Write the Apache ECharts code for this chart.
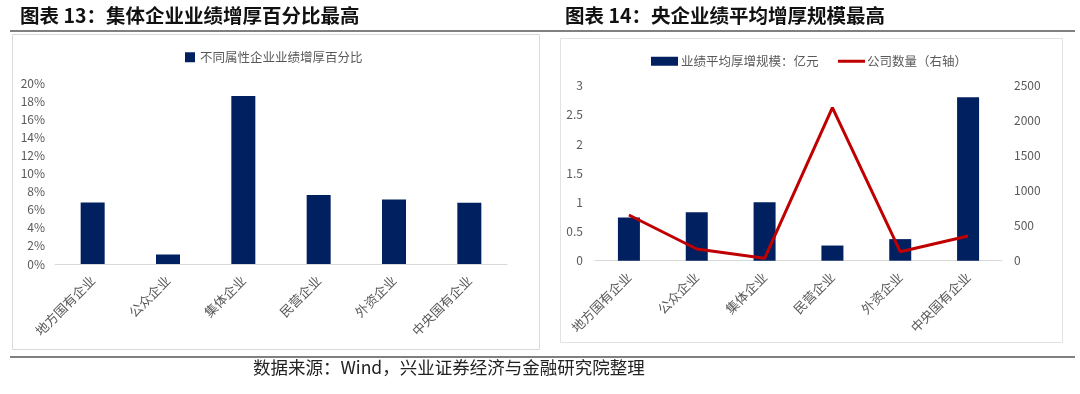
<!DOCTYPE html>
<html><head><meta charset="utf-8">
<script src="https://cdn.jsdelivr.net/npm/echarts@6/dist/echarts.min.js"></script>
<style>html,body{margin:0;padding:0;background:#fff}#c{width:1080px;height:394px}</style>
</head><body><div id="c"></div>
<script>
const categories = ['地方国有企业','公众企业','集体企业','民营企业','外资企业','中央国有企业'];
const pctValues = [0.068, 0.0105, 0.1855, 0.0762, 0.0712, 0.0678];
const avgScale = [0.74, 0.83, 1.0, 0.26, 0.37, 2.80];
const companyCount = [653, 167, 34, 2186, 129, 353];
const leftTicks = ['0%','2%','4%','6%','8%','10%','12%','14%','16%','18%','20%'];

const navy = '#002060';
const red = '#C00000';
const txt = '#595959';
const cjk = '"Noto Sans CJK SC", "Noto Sans", sans-serif';

const chart = echarts.init(document.getElementById('c'), null, {renderer:'canvas'});
const axisLabelX = {rotate:45, fontSize:13, color:txt, fontFamily:cjk, interval:0, margin:14};
chart.setOption({
  animation:false,
  textStyle:{fontFamily:cjk},
  graphic:[
    {type:'text', left:20, top:6, style:{text:'图表 13：集体企业业绩增厚百分比最高', font:'bold 19.5px '+cjk, fill:'#111'}},
    {type:'text', left:565, top:6, style:{text:'图表 14：央企业绩平均增厚规模最高', font:'bold 19.5px '+cjk, fill:'#111'}},
    {type:'line', shape:{x1:10,y1:31,x2:1075,y2:31}, style:{stroke:'#808080', lineWidth:2}},
    {type:'rect', shape:{x:12.5,y:34.5,width:527,height:315}, style:{fill:'none', stroke:'#d9d9d9', lineWidth:1}},
    {type:'rect', shape:{x:560.5,y:38.5,width:502,height:304}, style:{fill:'none', stroke:'#e3e3e3', lineWidth:1}},
    {type:'line', shape:{x1:10,y1:357,x2:1075,y2:357}, style:{stroke:'#808080', lineWidth:2}},
    {type:'text', left:253, top:359, style:{text:'数据来源：Wind，兴业证券经济与金融研究院整理', font:'17.5px "Noto Sans CJK SC", serif', fill:'#222'}}
  ],
  legend:[
    {data:[{name:'不同属性企业业绩增厚百分比', icon:'rect'}], left:180, top:46, itemWidth:10, itemHeight:10, itemGap:4,
     textStyle:{fontSize:12.5, color:txt}},
    {data:[{name:'业绩平均厚增规模：亿元', icon:'rect'}], left:646, top:50, itemWidth:27, itemHeight:9,
     textStyle:{fontSize:12.5, color:txt, padding:[0,0,0,-2]}},
    {data:[{name:'公司数量（右轴）', icon:'rect'}], left:833, top:50, itemWidth:27, itemHeight:3,
     textStyle:{fontSize:12.5, color:txt, padding:[0,0,0,-3]}}
  ],
  grid:[
    {left:55, right:573, top:83, bottom:130},
    {left:595, right:78, top:85.7, bottom:133.3}
  ],
  xAxis:[
    {type:'category', gridIndex:0, data:categories, axisTick:{show:false},
     axisLine:{lineStyle:{color:'#d9d9d9', width:1}}, axisLabel:axisLabelX},
    {type:'category', gridIndex:1, data:categories, axisTick:{show:false},
     axisLine:{lineStyle:{color:'#d9d9d9', width:1}}, axisLabel:axisLabelX}
  ],
  yAxis:[
    {type:'value', gridIndex:0, min:0, max:0.2, interval:0.02, splitLine:{show:false},
     axisLine:{show:false}, axisTick:{show:false},
     axisLabel:{fontSize:12, color:txt, margin:10, formatter:v=>leftTicks[Math.round(v/0.02)]}},
    {type:'value', gridIndex:1, min:0, max:3, interval:0.5, splitLine:{show:false},
     axisLine:{show:false}, axisTick:{show:false},
     axisLabel:{fontSize:12, color:txt, margin:12, formatter:v=>String(v)}},
    {type:'value', gridIndex:1, position:'right', min:0, max:2500, interval:500, splitLine:{show:false},
     axisLine:{show:false}, axisTick:{show:false},
     axisLabel:{fontSize:12, color:txt, margin:12, formatter:v=>String(v)}}
  ],
  series:[
    {name:'不同属性企业业绩增厚百分比', type:'bar', xAxisIndex:0, yAxisIndex:0, data:pctValues,
     barWidth:24, itemStyle:{color:navy}},
    {name:'业绩平均厚增规模：亿元', type:'bar', xAxisIndex:1, yAxisIndex:1, data:avgScale,
     barWidth:22, itemStyle:{color:navy}},
    {name:'公司数量（右轴）', type:'line', xAxisIndex:1, yAxisIndex:2, data:companyCount,
     symbol:'none', lineStyle:{color:red, width:3}, itemStyle:{color:red}}
  ]
});
</script></body></html>
